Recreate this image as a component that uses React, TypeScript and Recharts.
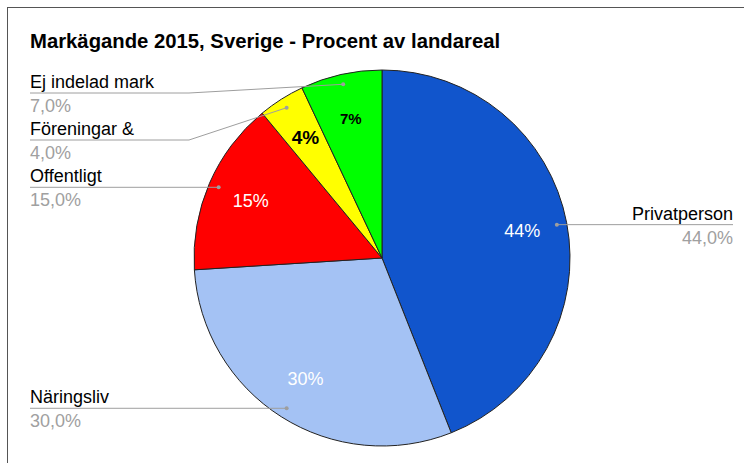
import React from 'react';
import { PieChart, Pie, Cell } from 'recharts';

const title = 'Markägande 2015, Sverige - Procent av landareal';
const categories = ['Privatperson', 'Näringsliv', 'Offentligt', 'Föreningar &', 'Ej indelad mark'];
const values = [44, 30, 15, 4, 7];

const COLORS = ['#1155cc', '#a4c2f4', '#ff0000', '#ffff00', '#00ff00'];
const INNER_TEXT = ['#ffffff', '#ffffff', '#ffffff', '#000000', '#000000'];
const INNER_SIZE = [18, 18, 18, 19, 15];
const INNER_WEIGHT = [400, 400, 400, 700, 700];

const W = 744;
const H = 463;
const CX = 382;
const CY = 258;
const R = 188;
const FONT = '"Liberation Sans", Arial, sans-serif';
const RAD = Math.PI / 180;
const LEFT_X = 30;
const RIGHT_X = 733;
const MIN_Y = 93;
const SPACING = 47;

const data = categories.map((name, i) => ({ name, value: values[i] }));
const total = values.reduce((a, b) => a + b, 0);

// compute outside-label line heights (avoid overlap by pushing down)
function computeLineY(): number[] {
  let cum = 0;
  const items = values.map((v, i) => {
    const mid = 90 - (360 * (cum + v / 2)) / total;
    cum += v;
    const dr = R - 10;
    const dx = CX + dr * Math.cos(mid * RAD);
    const dy = CY - dr * Math.sin(mid * RAD);
    return { i, dx, dy, left: dx < CX };
  });
  const out: number[] = new Array(values.length).fill(0);
  [true, false].forEach((side) => {
    const s = items.filter((it) => it.left === side).sort((a, b) => a.dy - b.dy);
    let prev = -Infinity;
    s.forEach((it) => {
      const y = Math.max(it.dy, prev + SPACING, MIN_Y);
      out[it.i] = y;
      prev = y;
    });
  });
  return out;
}
const LINE_Y = computeLineY();

const fmt = (v: number) => v.toFixed(1).replace('.', ',') + '%';

const renderLabel = (props: any) => {
  const { cx, cy, midAngle, outerRadius, index, value } = props;
  const c = Math.cos(-midAngle * RAD);
  const s = Math.sin(-midAngle * RAD);
  const ir = outerRadius * 0.76;
  const tx = cx + ir * c;
  const ty = cy + ir * s;
  const dr = outerRadius - 10;
  const dx = cx + dr * c;
  const dy = cy + dr * s;
  const left = dx < cx;
  const ly = LINE_Y[index];
  const endX = left ? LEFT_X : RIGHT_X;
  const elbowX = left ? cx - outerRadius - 5 : cx + outerRadius + 5;
  const bent = Math.abs(ly - dy) > 1.5;
  const pts = bent
    ? `${endX},${ly} ${elbowX},${ly} ${dx},${dy}`
    : `${endX},${ly} ${dx},${ly}`;
  const anchor = left ? 'start' : 'end';
  const pct = Math.round((value / total) * 100) + '%';
  return (
    <g>
      <text
        x={tx}
        y={ty}
        fill={INNER_TEXT[index]}
        fontSize={INNER_SIZE[index]}
        fontWeight={INNER_WEIGHT[index]}
        fontFamily={FONT}
        textAnchor="middle"
        dominantBaseline="central"
      >
        {pct}
      </text>
      <polyline points={pts} fill="none" stroke="#9e9e9e" strokeWidth={1} />
      <circle cx={dx} cy={bent ? dy : ly} r={2} fill="#9e9e9e" />
      <text
        x={endX}
        y={ly - 11}
        fill="#000000"
        fontSize={18}
        fontFamily={FONT}
        textAnchor={anchor}
        dominantBaseline="central"
      >
        {categories[index]}
      </text>
      <text
        x={endX}
        y={ly + 13}
        fill="#a0a0a0"
        fontSize={18}
        fontFamily={FONT}
        textAnchor={anchor}
        dominantBaseline="central"
      >
        {fmt(value)}
      </text>
    </g>
  );
};

export default function App() {
  return (
    <div
      style={{
        position: 'fixed',
        left: 0,
        top: 0,
        width: W,
        height: H,
        overflow: 'hidden',
        background: '#ffffff',
        fontFamily: FONT,
      }}
    >
      <div
        style={{
          position: 'absolute',
          left: 7,
          top: 7,
          width: 900,
          height: 700,
          border: '1px solid #555555',
          boxSizing: 'border-box',
        }}
      />
      <PieChart
        width={W}
        height={H}
        margin={{ top: 0, right: 0, bottom: 0, left: 0 }}
        style={{ position: 'absolute', left: 0, top: 0 }}
      >
        <Pie
          data={data}
          dataKey="value"
          nameKey="name"
          cx={CX}
          cy={CY}
          outerRadius={R}
          startAngle={90}
          endAngle={-270}
          stroke="#222222"
          strokeWidth={1}
          label={renderLabel}
          labelLine={false}
          isAnimationActive={false}
        >
          {data.map((d, i) => (
            <Cell key={d.name} fill={COLORS[i]} />
          ))}
        </Pie>
      </PieChart>
      <div
        style={{
          position: 'absolute',
          left: 30,
          top: 31,
          fontSize: 20.3,
          lineHeight: '20px',
          fontWeight: 700,
          color: '#000000',
          whiteSpace: 'nowrap',
        }}
      >
        {title}
      </div>
    </div>
  );
}
